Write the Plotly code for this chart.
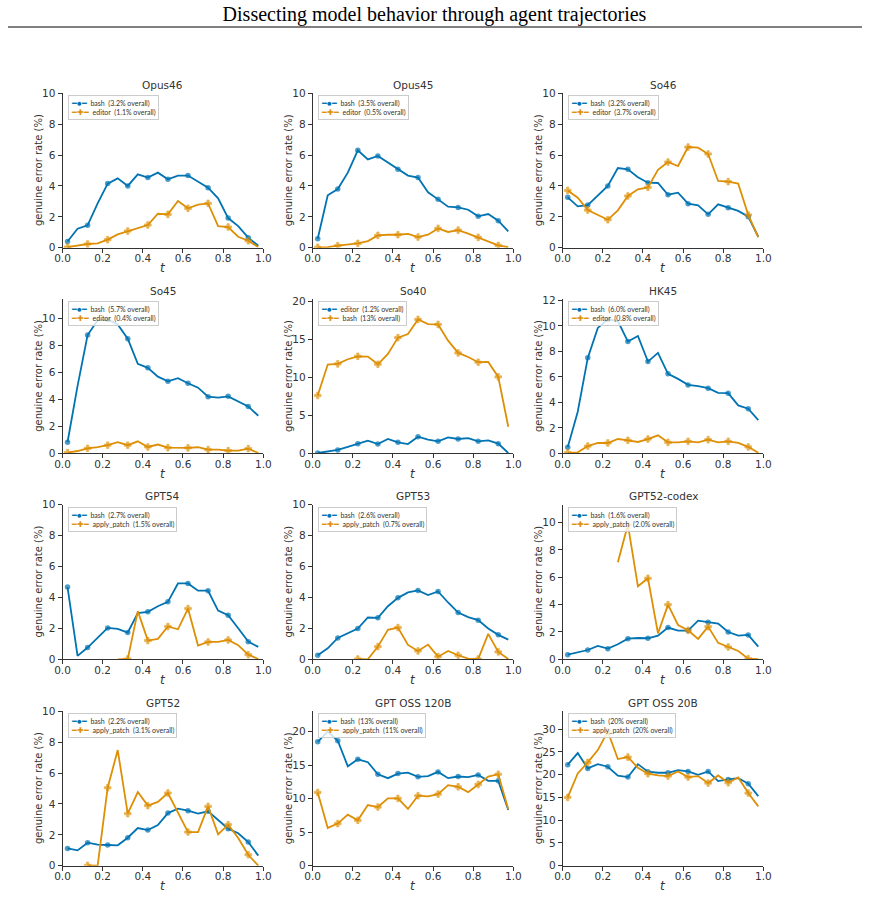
import plotly.graph_objects as go

# ---------------- data ----------------
T = [0.025, 0.075, 0.125, 0.175, 0.225, 0.275, 0.325, 0.375, 0.425, 0.475,
     0.525, 0.575, 0.625, 0.675, 0.725, 0.775, 0.825, 0.875, 0.925, 0.975]

titles = ["Opus46", "Opus45", "So46", "So45", "So40", "HK45",
          "GPT54", "GPT53", "GPT52-codex", "GPT52", "GPT OSS 120B", "GPT OSS 20B"]

blue_labels = ["bash  (3.2% overall)", "bash  (3.5% overall)", "bash  (3.2% overall)",
               "bash  (5.7% overall)", "editor  (1.2% overall)", "bash  (6.0% overall)",
               "bash  (2.7% overall)", "bash  (2.6% overall)", "bash  (1.6% overall)",
               "bash  (2.2% overall)", "bash  (13% overall)", "bash  (20% overall)"]

orange_labels = ["editor  (1.1% overall)", "editor  (0.5% overall)", "editor  (3.7% overall)",
                 "editor  (0.4% overall)", "bash  (13% overall)", "editor  (0.8% overall)",
                 "apply_patch  (1.5% overall)", "apply_patch  (0.7% overall)",
                 "apply_patch  (2.0% overall)", "apply_patch  (3.1% overall)",
                 "apply_patch  (11% overall)", "apply_patch  (20% overall)"]

opus46_blue = [0.40, 1.23, 1.45, 2.87, 4.15, 4.49, 4.00, 4.75, 4.54, 4.86,
               4.43, 4.67, 4.67, 4.28, 3.89, 3.20, 1.92, 1.40, 0.65, 0.13]
opus46_orange = [0.04, 0.13, 0.24, 0.28, 0.52, 0.86, 1.08, 1.30, 1.47, 2.20,
                 2.16, 3.02, 2.55, 2.79, 2.87, 1.40, 1.34, 0.71, 0.45, 0.04]

opus45_blue = [0.58, 3.39, 3.80, 4.86, 6.31, 5.72, 5.94, 5.51, 5.08, 4.67,
               4.54, 3.59, 3.13, 2.66, 2.61, 2.46, 2.03, 2.18, 1.75, 1.06]
opus45_orange = [0.02, 0.04, 0.13, 0.22, 0.28, 0.43, 0.80, 0.84, 0.84, 0.89,
                 0.69, 0.84, 1.25, 1.02, 1.14, 0.91, 0.67, 0.43, 0.15, 0.04]

so46_blue = [3.26, 2.68, 2.76, 3.39, 4.00, 5.16, 5.08, 4.56, 4.21, 4.19,
             3.43, 3.56, 2.85, 2.74, 2.16, 2.81, 2.59, 2.38, 2.01, 0.71]
so46_orange = [3.71, 3.24, 2.44, 2.14, 1.81, 2.42, 3.35, 3.78, 3.91, 5.05,
               5.55, 5.29, 6.52, 6.48, 6.07, 4.32, 4.28, 4.15, 2.12, 0.67]

so45_blue = [0.82, 5.00, 8.76, 9.85, 9.92, 9.55, 8.49, 6.63, 6.33, 5.68,
             5.33, 5.56, 5.19, 4.86, 4.19, 4.12, 4.22, 3.82, 3.47, 2.78]
so45_orange = [0.05, 0.17, 0.37, 0.45, 0.60, 0.82, 0.60, 0.89, 0.47, 0.65,
               0.42, 0.40, 0.40, 0.45, 0.27, 0.27, 0.20, 0.20, 0.35, 0.02]

so40_blue = [0.04, 0.20, 0.44, 0.83, 1.27, 1.66, 1.22, 1.88, 1.44, 1.22,
             2.18, 1.79, 1.57, 2.10, 1.88, 2.00, 1.57, 1.70, 1.27, 0.04]
so40_orange = [7.60, 11.66, 11.75, 12.36, 12.75, 12.71, 11.70, 13.06, 15.20, 15.68,
               17.60, 16.99, 16.94, 14.80, 13.19, 12.66, 11.97, 12.00, 10.04, 3.49]

hk45_blue = [0.47, 3.26, 7.49, 9.84, 10.51, 10.38, 8.77, 9.21, 7.20, 7.88,
             6.24, 5.84, 5.37, 5.27, 5.11, 4.75, 4.72, 3.76, 3.50, 2.61]
hk45_orange = [0.05, 0.08, 0.57, 0.81, 0.81, 1.12, 1.02, 0.89, 1.12, 1.41,
               0.86, 0.86, 0.94, 0.86, 1.07, 0.86, 0.94, 0.81, 0.50, 0.05]

gpt54_blue = [4.67, 0.22, 0.76, 1.38, 2.03, 1.97, 1.73, 2.98, 3.07, 3.43,
              3.71, 4.90, 4.90, 4.43, 4.43, 3.15, 2.85, 2.01, 1.14, 0.80]
gpt54_orange = [None, None, None, None, None, 0.00, 0.02, 3.11, 1.21, 1.32,
                2.12, 1.94, 3.28, 0.89, 1.12, 1.12, 1.25, 0.91, 0.30, 0.02]

gpt53_blue = [0.26, 0.71, 1.38, 1.68, 1.99, 2.70, 2.68, 3.43, 3.97, 4.32,
              4.45, 4.15, 4.38, 3.67, 3.02, 2.72, 2.53, 1.99, 1.58, 1.27]
gpt53_orange = [None, None, None, None, 0.02, 0.00, 0.82, 1.90, 2.05, 0.93,
                0.54, 0.95, 0.17, 0.54, 0.26, 0.04, 0.02, 1.64, 0.48, 0.02]

gpt52codex_blue = [0.34, 0.51, 0.68, 0.98, 0.78, 1.10, 1.51, 1.56, 1.54, 1.73,
                   2.32, 2.10, 2.10, 2.83, 2.71, 2.61, 2.00, 1.73, 1.78, 0.93]
gpt52codex_orange = [None, None, None, None, None, 7.10, 9.85, 5.34, 5.93, 1.90,
                     4.00, 2.51, 2.12, 1.49, 2.39, 1.20, 0.90, 0.61, 0.05, 0.02]

gpt52_blue = [1.12, 0.99, 1.49, 1.36, 1.34, 1.32, 1.81, 2.44, 2.31, 2.63,
              3.41, 3.69, 3.56, 3.37, 3.52, 2.96, 2.40, 2.10, 1.53, 0.65]
gpt52_orange = [None, None, 0.02, 0.00, 5.05, 7.49, 3.37, 4.77, 3.89, 4.13,
                4.71, 3.41, 2.18, 2.18, 3.84, 2.03, 2.66, 1.79, 0.71, 0.00]

oss120_blue = [18.50, 20.05, 18.66, 14.85, 15.89, 15.45, 13.66, 13.07, 13.76, 13.91,
               13.27, 13.37, 14.01, 13.07, 13.32, 13.22, 13.56, 12.67, 12.67, 8.32]
oss120_orange = [10.94, 5.64, 6.29, 7.62, 6.78, 9.06, 8.76, 10.05, 10.05, 8.47,
                 10.45, 10.35, 10.69, 12.03, 11.78, 10.99, 12.13, 13.32, 13.66, 8.42]

oss20_blue = [22.17, 24.73, 21.36, 22.31, 21.73, 19.75, 19.46, 22.30, 20.63, 20.41,
              20.41, 21.00, 20.70, 19.97, 20.70, 18.58, 18.95, 19.24, 18.00, 15.29]
oss20_orange = [15.00, 20.26, 22.68, 25.38, 29.48, 23.41, 23.85, 21.51, 20.19, 19.82,
                19.68, 20.70, 19.46, 19.68, 18.14, 19.82, 18.21, 19.39, 15.95, 13.02]

blue_series = [opus46_blue, opus45_blue, so46_blue, so45_blue, so40_blue, hk45_blue,
               gpt54_blue, gpt53_blue, gpt52codex_blue, gpt52_blue, oss120_blue, oss20_blue]
orange_series = [opus46_orange, opus45_orange, so46_orange, so45_orange, so40_orange,
                 hk45_orange, gpt54_orange, gpt53_orange, gpt52codex_orange,
                 gpt52_orange, oss120_orange, oss20_orange]

x_ticks = [0.0, 0.2, 0.4, 0.6, 0.8, 1.0]
x_title = "<i>t</i>"
y_title = "genuine error rate (%)"

# ---------------- style / layout ----------------
W, H = 869, 898
BLUE = "#0173B2"
ORANGE = "#DE8F05"
AXC = "#333333"
FONT = "DejaVu Sans"
LFONT = "Lato"

col_l = [62.5, 312.7, 562.7]
col_r = [263.3, 513.3, 763.3]
row_t = [93.3, 299.3, 504.5, 711.3]
row_b = [247.7, 453.3, 659.3, 865.7]

msizes = [5.5 if i % 2 == 0 else 0 for i in range(len(T))]

fig = go.Figure()
layout = dict(
    template="none",
    width=W, height=H, margin=dict(l=0, r=0, t=0, b=0, pad=0, autoexpand=False),
    paper_bgcolor="white", plot_bgcolor="white", showlegend=False,
    font=dict(family=FONT, color=AXC, size=10),
    title=dict(text="Dissecting model behavior through agent trajectories",
               x=0.5, xanchor="center", y=1 - 14 / H, yanchor="middle",
               font=dict(family="Liberation Serif", size=20, color="black")),
    shapes=[dict(type="line", xref="paper", yref="paper",
                 x0=8 / W, x1=862 / W, y0=1 - 27 / H, y1=1 - 27 / H,
                 line=dict(color="black", width=1))],
    annotations=[],
)


def legend_text(bl, ol):
    return ('<span style="font-size:8px;color:%s">━●━</span>  %s<br>'
            '<span style="font-size:8px;color:%s">━✚━</span>  %s'
            % (BLUE, bl, ORANGE, ol))


for k in range(12):
    r, c = divmod(k, 3)
    n = k + 1
    xa = "x" if n == 1 else f"x{n}"
    ya = "y" if n == 1 else f"y{n}"

    b = blue_series[k]
    o = orange_series[k]
    vals = [v for v in b + o if v is not None]
    ytop = max(10.0, 1.15 * max(vals))
    dtick = 5 if ytop > 15 else 2

    fig.add_trace(go.Scatter(
        x=T, y=b, name=blue_labels[k], mode="lines+markers",
        line=dict(color=BLUE, width=1.8),
        marker=dict(symbol="circle", size=msizes, color=BLUE, line=dict(width=0)),
        xaxis=xa, yaxis=ya))
    fig.add_trace(go.Scatter(
        x=T, y=o, name=orange_labels[k], mode="lines+markers",
        line=dict(color=ORANGE, width=1.8),
        marker=dict(symbol="cross", size=msizes, color=ORANGE,
                    line=dict(width=0.8, color=ORANGE)),
        xaxis=xa, yaxis=ya))

    xkey = "xaxis" if n == 1 else f"xaxis{n}"
    ykey = "yaxis" if n == 1 else f"yaxis{n}"
    layout[xkey] = dict(
        domain=[col_l[c] / W, col_r[c] / W], anchor=ya, range=[0, 1],
        automargin=False, ticklabelstandoff=-3,
        tickvals=x_ticks, tickformat=".1f", ticks="outside", ticklen=4,
        tickwidth=1, tickcolor=AXC, showline=True, linecolor=AXC, linewidth=1,
        showgrid=False, zeroline=False, tickfont=dict(size=10.5, color=AXC))
    layout[ykey] = dict(
        domain=[1 - row_b[r] / H, 1 - row_t[r] / H], anchor=xa, range=[0, ytop],
        automargin=False,
        dtick=dtick, tick0=0, ticks="outside", ticklen=4, tickwidth=1,
        tickcolor=AXC, showline=True, linecolor=AXC, linewidth=1,
        showgrid=False, zeroline=False, tickfont=dict(size=10.5, color=AXC))
    # subplot title
    layout["annotations"].append(dict(
        text=titles[k], xref="paper", yref="paper",
        x=(col_l[c] + col_r[c]) / 2 / W, y=1 - (row_t[r] - 8) / H,
        xanchor="center", yanchor="middle", showarrow=False,
        font=dict(size=10.5, color=AXC)))
    # axis titles
    layout["annotations"].append(dict(
        text=x_title, xref="paper", yref="paper",
        x=(col_l[c] + col_r[c]) / 2 / W, y=1 - (row_b[r] + 20.5) / H,
        xanchor="center", yanchor="middle", showarrow=False,
        font=dict(size=12, color=AXC)))
    layout["annotations"].append(dict(
        text=y_title, xref="paper", yref="paper", textangle=-90,
        x=(col_l[c] - 24) / W, y=1 - (row_t[r] + row_b[r]) / 2 / H,
        xanchor="center", yanchor="middle", showarrow=False,
        font=dict(size=10, color=AXC)))
    # legend box
    layout["annotations"].append(dict(
        text=legend_text(blue_labels[k], orange_labels[k]),
        xref="paper", yref="paper",
        x=(col_l[c] + 5) / W, y=1 - (row_t[r] + 2) / H,
        xanchor="left", yanchor="top", align="left", showarrow=False,
        bgcolor="rgba(255,255,255,0.8)", bordercolor="#cccccc", borderwidth=1,
        borderpad=2, font=dict(family=LFONT, size=7, color=AXC)))

fig.update_layout(**layout)
fig.write_html("out.html")
